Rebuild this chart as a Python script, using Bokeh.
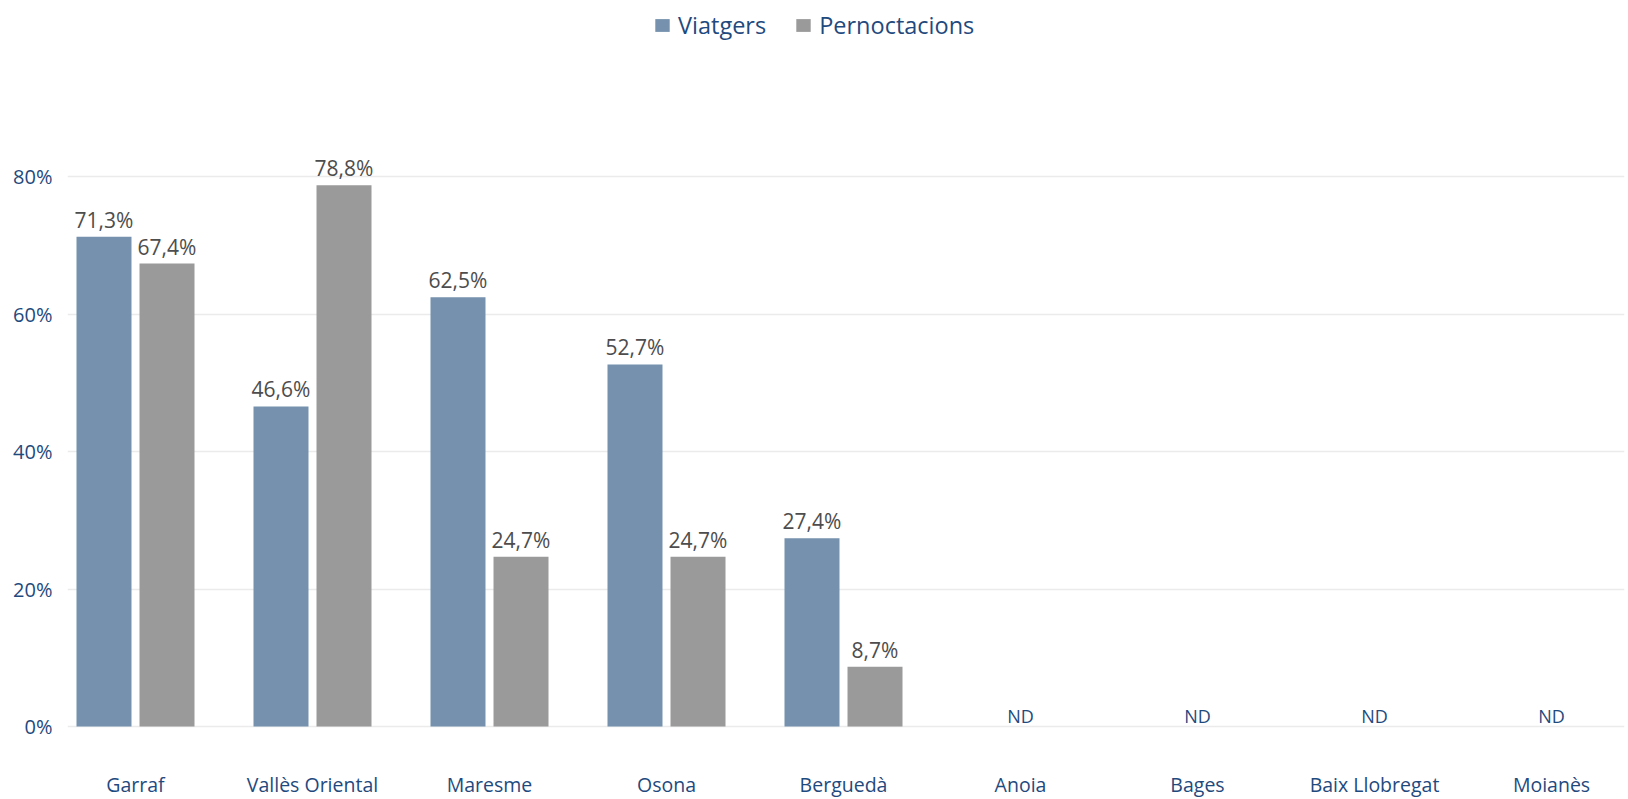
import math
from bokeh.plotting import figure
from bokeh.models import ColumnDataSource, FixedTicker, Legend, LegendItem, Range1d
from bokeh.transform import dodge
from bokeh.core.properties import value
from bokeh.embed import file_html
from bokeh.resources import INLINE

# ---- data ----
categories = ["Garraf", "Vallès Oriental", "Maresme", "Osona", "Berguedà",
              "Anoia", "Bages", "Baix Llobregat", "Moianès"]
viatgers = [71.3, 46.6, 62.5, 52.7, 27.4, None, None, None, None]
pernoctacions = [67.4, 78.8, 24.7, 24.7, 8.7, None, None, None, None]
series_names = ["Viatgers", "Pernoctacions"]
y_ticks = [0, 20, 40, 60, 80]
y_tick_labels = ["0%", "20%", "40%", "60%", "80%"]
missing_label = "ND"

# ---- styles ----
C_VIAT = "#7591ad"
C_PERN = "#9a9a9a"
C_TEXT = "#1f4a7e"
C_VAL = "#4d4d4d"
FONT = "Open Sans"


def fmt(v):
    return "" if v is None else f"{v:.1f}".replace(".", ",") + "%"


idx = list(range(len(categories)))
src = ColumnDataSource(dict(
    idx=idx,
    viat=[math.nan if v is None else v for v in viatgers],
    pern=[math.nan if v is None else v for v in pernoctacions],
    viat_lbl=[fmt(v) for v in viatgers],
    pern_lbl=[fmt(v) for v in pernoctacions],
))
cat_src = ColumnDataSource(dict(idx=idx, y=[0] * len(idx), name=categories))
nd_idx = [i for i in idx if viatgers[i] is None and pernoctacions[i] is None]
nd_src = ColumnDataSource(dict(idx=nd_idx, y=[0] * len(nd_idx), t=[missing_label] * len(nd_idx)))

W, H = 1628, 799
p = figure(width=W, height=H, output_backend="svg", toolbar_location=None,
           x_range=Range1d(-0.3842, 8.4124), y_range=Range1d(-10.63, 105.69),
           x_axis_location=None,
           min_border_left=67, min_border_right=4, min_border_top=0, min_border_bottom=0)
p.outline_line_color = None
p.background_fill_color = "white"
p.border_fill_color = "white"

OFF = 0.178
BW = 0.3107
r1 = p.vbar(x=dodge("idx", -OFF, range=p.x_range), top="viat", bottom=0, width=BW,
            source=src, fill_color=C_VIAT, line_color=None)
r2 = p.vbar(x=dodge("idx", OFF, range=p.x_range), top="pern", bottom=0, width=BW,
            source=src, fill_color=C_PERN, line_color=None)

for col, lbl, off in (("viat", "viat_lbl", -OFF), ("pern", "pern_lbl", OFF)):
    p.text(x=dodge("idx", off, range=p.x_range), y=col, text=lbl, source=src,
           text_align="center", text_baseline="bottom", y_offset=-3,
           text_font=value(FONT), text_font_size="21px", text_color=C_VAL)

p.text(x="idx", y="y", text="t", source=nd_src, text_align="center",
       text_baseline="middle", y_offset=-10, text_font=value(FONT),
       text_font_size="18px", text_color=C_TEXT)

# category labels (x axis)
p.text(x="idx", y="y", text="name", source=cat_src, text_align="center",
       text_baseline="middle", y_offset=58, text_font=value(FONT),
       text_font_size="19.5px", text_color=C_TEXT)

ya = p.yaxis[0]
ya.ticker = FixedTicker(ticks=y_ticks)
ya.major_label_overrides = {t: l for t, l in zip(y_ticks, y_tick_labels)}
ya.axis_line_color = None
ya.major_tick_line_color = None
ya.minor_tick_line_color = None
ya.major_tick_out = 0
ya.major_label_standoff = 15
ya.major_label_text_font = FONT
ya.major_label_text_font_size = "20px"
ya.major_label_text_color = C_TEXT

p.xgrid.grid_line_color = None
p.ygrid.grid_line_color = "#ebebeb"
p.ygrid.grid_line_width = 1.5

legend = Legend(items=[LegendItem(label=series_names[0], renderers=[r1]),
                       LegendItem(label=series_names[1], renderers=[r2])],
                orientation="horizontal", location=(586, 758),
                margin=0, padding=10, spacing=28, label_standoff=7,
                glyph_width=18, glyph_height=16, label_height=31,
                label_text_font=FONT, label_text_font_size="23.5px",
                label_text_color=C_TEXT,
                border_line_color=None, background_fill_alpha=0)
p.add_layout(legend)

open("out.html", "w").write(file_html(p, INLINE))
